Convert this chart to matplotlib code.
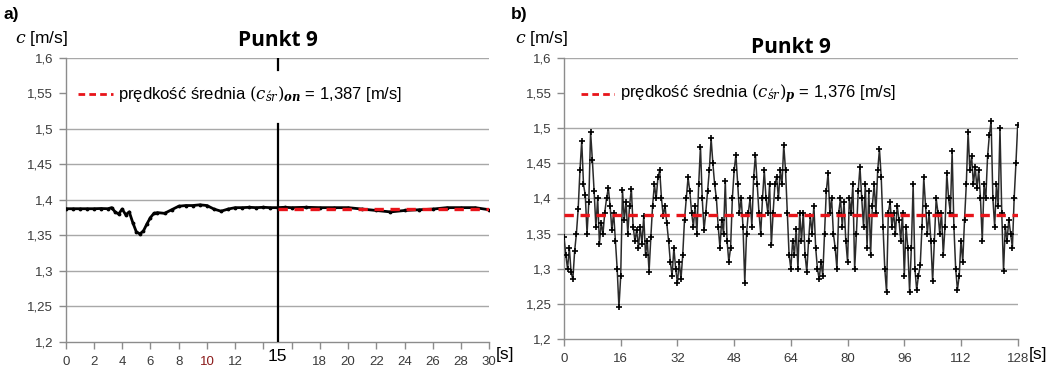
import numpy as np
import matplotlib
matplotlib.use('Agg')
import matplotlib.pyplot as plt
from matplotlib.lines import Line2D

plt.rcParams['font.family'] = ['Liberation Sans', 'DejaVu Sans']
plt.rcParams['mathtext.fontset'] = 'dejavuserif'

# ---- data: panel a) ----
t_a = [0, 0.5, 1, 1.5, 2, 2.5, 3, 3.25, 3.5, 3.75, 4.0, 4.25, 4.5, 4.75, 5.0, 5.25,
       5.5, 5.75, 6.0, 6.25, 6.5, 7.0, 7.5, 8.0, 8.5, 9.0, 9.5, 10.0, 10.5, 11.0,
       11.5, 12.0, 12.5, 13.0, 13.5, 14.0, 14.5, 15.0, 15.5, 16, 17, 18, 19, 20,
       21, 22, 23, 24, 25, 26, 27, 28, 29, 30]
c_a = [1.3875, 1.3875, 1.3875, 1.3875, 1.3875, 1.3878, 1.3875, 1.389, 1.383, 1.380,
       1.387, 1.379, 1.383, 1.368, 1.355, 1.352, 1.356, 1.366, 1.375, 1.381, 1.382,
       1.381, 1.386, 1.391, 1.392, 1.392, 1.393, 1.392, 1.387, 1.384, 1.387, 1.389,
       1.389, 1.3895, 1.389, 1.3895, 1.389, 1.389, 1.3895, 1.389, 1.3895, 1.389,
       1.389, 1.389, 1.387, 1.385, 1.383, 1.385, 1.386, 1.387, 1.389, 1.389, 1.389,
       1.386]
mean_a = 1.387

# ---- data: panel b) (0.5 s sampling, 0..128 s) ----
t_b = np.arange(0, 128.01, 0.5)
c_b = [
    1.345, 1.320, 1.300, 1.330, 1.295, 1.285, 1.325, 1.350, 1.385, 1.440,
    1.482, 1.420, 1.405, 1.350, 1.395, 1.495, 1.455, 1.410, 1.360, 1.400,
    1.335, 1.365, 1.350, 1.380, 1.400, 1.415, 1.390, 1.355, 1.380, 1.340,
    1.300, 1.245, 1.290, 1.412, 1.370, 1.395, 1.350, 1.390, 1.414, 1.360,
    1.340, 1.355, 1.330, 1.360, 1.335, 1.375, 1.320, 1.340, 1.296, 1.345,
    1.390, 1.420, 1.400, 1.430, 1.440, 1.400, 1.375, 1.390, 1.365, 1.340,
    1.310, 1.290, 1.330, 1.300, 1.280, 1.310, 1.285, 1.320, 1.370, 1.400,
    1.430, 1.410, 1.380, 1.360, 1.390, 1.350, 1.420, 1.474, 1.400, 1.355,
    1.380, 1.410, 1.440, 1.486, 1.450, 1.420, 1.400, 1.360, 1.330, 1.370,
    1.350, 1.425, 1.340, 1.310, 1.330, 1.400, 1.440, 1.462, 1.420, 1.380,
    1.400, 1.360, 1.280, 1.350, 1.380, 1.400, 1.360, 1.430, 1.462, 1.420,
    1.380, 1.350, 1.400, 1.440, 1.400, 1.380, 1.420, 1.334, 1.380, 1.420,
    1.430, 1.400, 1.440, 1.420, 1.476, 1.440, 1.380, 1.320, 1.300, 1.340,
    1.320, 1.357, 1.300, 1.380, 1.340, 1.380, 1.320, 1.296, 1.340, 1.375,
    1.350, 1.390, 1.330, 1.300, 1.285, 1.310, 1.290, 1.350, 1.410, 1.436,
    1.380, 1.400, 1.350, 1.330, 1.300, 1.380, 1.400, 1.360, 1.395, 1.340,
    1.310, 1.400, 1.380, 1.420, 1.300, 1.350, 1.410, 1.445, 1.400, 1.360,
    1.420, 1.330, 1.410, 1.320, 1.390, 1.420, 1.380, 1.440, 1.470, 1.430,
    1.360, 1.300, 1.267, 1.380, 1.395, 1.360, 1.380, 1.350, 1.390, 1.370,
    1.340, 1.380, 1.290, 1.360, 1.330, 1.267, 1.330, 1.420, 1.300, 1.270,
    1.290, 1.305, 1.360, 1.430, 1.390, 1.350, 1.380, 1.340, 1.282, 1.340,
    1.400, 1.380, 1.350, 1.380, 1.320, 1.360, 1.436, 1.400, 1.380, 1.467,
    1.360, 1.300, 1.270, 1.290, 1.340, 1.310, 1.370, 1.420, 1.495, 1.440,
    1.460, 1.420, 1.445, 1.415, 1.440, 1.400, 1.340, 1.420, 1.400, 1.460,
    1.490, 1.510, 1.400, 1.360, 1.420, 1.390, 1.500, 1.380, 1.297, 1.360,
    1.340, 1.370, 1.350, 1.330, 1.400, 1.450, 1.505]
mean_b = 1.376

y_ticks = [1.2, 1.25, 1.3, 1.35, 1.4, 1.45, 1.5, 1.55, 1.6]
y_labels = ['1,2', '1,25', '1,3', '1,35', '1,4', '1,45', '1,5', '1,55', '1,6']
xa_ticks = list(range(0, 31, 2))
xa_labels = ['' if v in (14, 16) else str(v) for v in xa_ticks]
xb_ticks = list(range(0, 129, 16))
xb_labels = [str(v) for v in xb_ticks]

W, H = 1064, 378
fig = plt.figure(figsize=(W / 100, H / 100), dpi=100)

GRID = '#a8a8a8'
SPINE = '#8c8c8c'
TXT = '#3a3a3a'


def setup(ax, xlim, xt, xl):
    ax.set_xlim(*xlim)
    ax.set_ylim(1.2, 1.6)
    for s in ('top', 'right'):
        ax.spines[s].set_visible(False)
    for s in ('left', 'bottom'):
        ax.spines[s].set_color(SPINE)
        ax.spines[s].set_linewidth(1.0)
    for y in y_ticks[1:]:
        if abs(y - 1.55) > 1e-6:
            ax.axhline(y, color=GRID, lw=1.0, zorder=0)
    ax.set_yticks(y_ticks)
    ax.set_yticklabels(y_labels)
    ax.set_xticks(xt)
    ax.set_xticklabels(xl)
    ax.tick_params(axis='both', direction='out', length=5, width=1, color=SPINE,
                   labelsize=9.5, labelcolor=TXT)
    ax.tick_params(axis='y', pad=4)
    ax.tick_params(axis='x', pad=5)


# ---- panel a ----
axa = fig.add_axes([65.7 / W, 1 - 341.7 / H, (489.3 - 65.7) / W, (341.7 - 58) / H])
setup(axa, (0, 30), xa_ticks, xa_labels)
axa.get_xticklabels()[5].set_color('#8b1a1a')
axa.plot([15, 15], [1.2, 1.507], color='black', lw=1.6, zorder=3)
axa.plot([15, 15], [1.583, 1.6], color='black', lw=1.6, zorder=3)
axa.plot(t_a, c_a, color='black', lw=2.0, marker='.', ms=3.5, zorder=4)
axa.plot([15, 30], [mean_a, mean_a], color='#e8141a', lw=2.4, dashes=(2.8, 2.0), zorder=5)
axa.text(15, 1.2, '15', ha='center', va='center', fontsize=12.5, color='black',
         transform=axa.transData + matplotlib.transforms.ScaledTranslation(0, -15 / 100, fig.dpi_scale_trans))
axa.text(496 / W, 1 - 355 / H, '[s]', transform=fig.transFigure, ha='left', va='center',
         fontsize=12.5, color='black')
axa.set_title('Punkt 9', fontsize=15, fontweight='bold', family='Open Sans', pad=9)

# ---- panel b ----
axb = fig.add_axes([564 / W, 1 - 339 / H, (1017.7 - 564) / W, (339 - 58) / H])
setup(axb, (0, 128), xb_ticks, xb_labels)
axb.plot(t_b, c_b, color='#2a2a2a', lw=1.1, marker='+', ms=4, mec='black', mew=1.2,
         zorder=4)
axb.plot([0, 128], [mean_b, mean_b], color='#e8141a', lw=2.4, dashes=(2.8, 2.0), zorder=5)
axb.text(1029 / W, 1 - 354 / H, '[s]', transform=fig.transFigure, ha='left', va='center',
         fontsize=12.5, color='black')
axb.set_title('Punkt 9', fontsize=15, fontweight='bold', family='Open Sans', pad=1)

# ---- legends ----
def legend(x0, x1, xt, label):
    ypx = 1 - 94 / H
    fig.add_artist(Line2D([x0 / W, x1 / W], [ypx, ypx], transform=fig.transFigure,
                          color='#e8141a', lw=2.0, dashes=(2.4, 1.5)))
    fig.text(xt / W, ypx, label, ha='left', va='center', fontsize=12, color='black')


legend(78, 113, 118, r'prędkość średnia $(c_{\acute{s}r})_{\mathbfit{on}}$ = 1,387 [m/s]')
legend(581, 614, 620, r'prędkość średnia $(c_{\acute{s}r})_{\mathbfit{p}}$ = 1,376 [m/s]')

# ---- axis labels / panel labels ----
fig.text(15 / W, 1 - 38 / H, r'$\it{c}$ [m/s]', ha='left', va='center', fontsize=12.5)
fig.text(515 / W, 1 - 38 / H, r'$\it{c}$ [m/s]', ha='left', va='center', fontsize=12.5)
fig.text(3 / W, 1 - 14 / H, 'a)', ha='left', va='center', fontsize=12.5, fontweight='bold')
fig.text(511 / W, 1 - 14 / H, 'b)', ha='left', va='center', fontsize=12.5, fontweight='bold')

fig.savefig('out.png', dpi=100)
